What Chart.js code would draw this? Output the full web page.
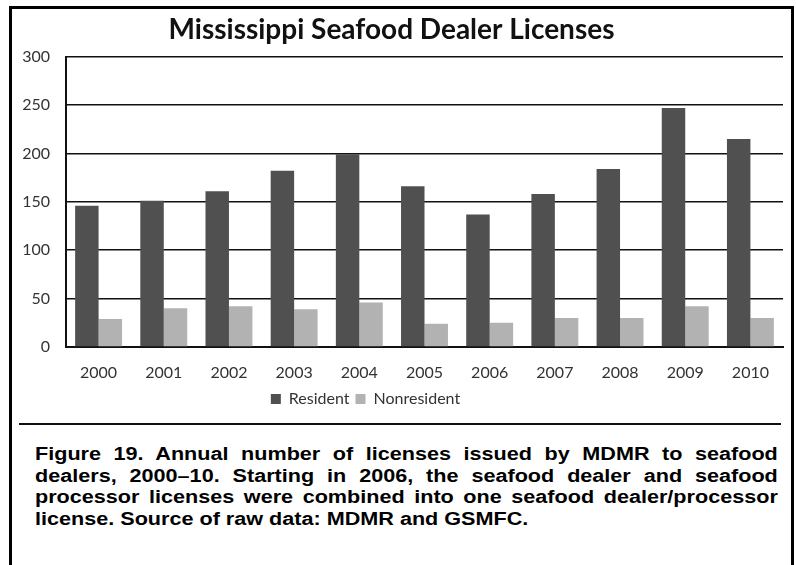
<!DOCTYPE html>
<html>
<head>
<meta charset="utf-8">
<script src="https://cdn.jsdelivr.net/npm/chart.js@4.4.1/dist/chart.umd.min.js"></script>
<style>
    html, body { margin: 0; padding: 0; background: #fff; }
    body { width: 796px; height: 565px; position: relative; overflow: hidden; }
    #frame { position: absolute; left: 9px; top: 6px; width: 785px; height: 620px;
             border: 3px solid #000; box-sizing: border-box; }
    #rule { position: absolute; left: 19px; top: 423px; width: 762px; height: 2px; background: #111; }
    #wrap { position: absolute; left: 0; top: 0; width: 796px; height: 417px; }
    #caption { position: absolute; left: 35px; top: 444px; width: 619px;
               transform: scaleX(1.2); transform-origin: 0 0;
               font-family: "Liberation Sans", Arial, sans-serif; font-weight: bold;
               font-size: 18px; line-height: 21.7px; color: #000; }
    #caption div { white-space: nowrap; }
    #caption .full { text-align: justify; text-align-last: justify; white-space: normal; }
</style>
</head>
<body>
<div id="frame"></div>
<div id="wrap"><canvas id="myChart" width="796" height="417"></canvas></div>
<div id="rule"></div>
<div id="caption">
    <div class="full">Figure 19. Annual number of licenses issued by MDMR to seafood</div>
    <div class="full">dealers, 2000–10. Starting in 2006, the seafood dealer and seafood</div>
    <div class="full">processor licenses were combined into one seafood dealer/processor</div>
    <div>license. Source of raw data: MDMR and GSMFC.</div>
</div>
<script>
const years = ["2000", "2001", "2002", "2003", "2004", "2005", "2006", "2007", "2008", "2009", "2010"];
const resident = [146, 151, 161, 182, 199, 166, 137, 158, 184, 247, 215];
const nonresident = [29, 40, 42, 39, 46, 24, 25, 30, 30, 42, 30];
const yTicks = [0, 50, 100, 150, 200, 250, 300];

const tickFont = { family: "Lato, 'Open Sans', sans-serif", size: 16 };

// the legend in the original sits a bit left of centre
const legendShift = {
    id: 'legendShift',
    afterLayout(chart) {
        chart.legend.left -= 26;
        chart.legend.right -= 26;
    }
};

const ctx = document.getElementById('myChart').getContext('2d');
new Chart(ctx, {
    type: 'bar',
    data: {
        labels: years,
        datasets: [{
            label: 'Resident',
            data: resident,
            backgroundColor: '#505050',
            borderWidth: 0
        }, {
            label: 'Nonresident',
            data: nonresident,
            backgroundColor: '#b2b2b2',
            borderWidth: 0
        }]
    },
    options: {
        responsive: false,
        animation: false,
        datasets: { bar: { categoryPercentage: 0.72, barPercentage: 1.0 } },
        layout: { padding: { left: 0, right: 13, top: 0, bottom: 0 } },
        plugins: {
            title: {
                display: true,
                text: 'Mississippi Seafood Dealer Licenses',
                color: '#111',
                font: { family: "Lato, 'Open Sans', sans-serif", size: 28, weight: 'bold' },
                padding: { top: 13, bottom: 10 }
            },
            legend: {
                position: 'bottom',
                labels: {
                    boxWidth: 10,
                    boxHeight: 10,
                    padding: 6,
                    color: '#333',
                    font: { family: "Lato, 'Open Sans', sans-serif", size: 16 }
                }
            },
            tooltip: { enabled: false }
        },
        scales: {
            x: {
                afterFit: function (scale) { scale.height = 38; },
                grid: { display: false, drawTicks: false },
                border: { display: true, color: '#111', width: 2 },
                ticks: { color: '#333', font: tickFont, padding: 16 }
            },
            y: {
                min: 0,
                max: 300,
                afterFit: function (scale) { scale.width = 66; },
                afterBuildTicks: function (scale) { scale.ticks = yTicks.map(v => ({ value: v })); },
                grid: { color: '#111', lineWidth: 1.5, drawTicks: false },
                border: { display: true, color: '#111', width: 2 },
                ticks: { color: '#333', font: tickFont, padding: 16 }
            }
        }
    },
    plugins: [legendShift]
});
</script>
</body>
</html>
